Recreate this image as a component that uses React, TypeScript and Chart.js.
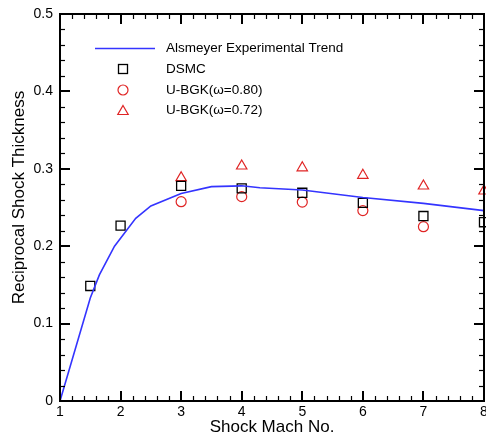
import React, { useEffect, useRef } from 'react';
import { Chart, registerables } from 'chart.js';
Chart.register(...registerables);

const machTrend = [1, 1.5, 1.65, 1.9, 2.25, 2.5, 3, 3.5, 4, 4.3, 5, 6, 7, 8];
const alsmeyerTrend = [0, 0.133, 0.163, 0.2, 0.236, 0.252, 0.268, 0.277, 0.278, 0.2756, 0.2726, 0.263, 0.2553, 0.246];

const machDsmc = [1.5, 2, 3, 4, 5, 6, 7, 8];
const dsmc = [0.1486, 0.2265, 0.278, 0.2748, 0.269, 0.256, 0.239, 0.231];

const machBgk80 = [3, 4, 5, 6, 7];
const bgk80 = [0.2575, 0.264, 0.257, 0.246, 0.2252];

const machBgk72 = [3, 4, 5, 6, 7, 8];
const bgk72 = [0.2885, 0.3036, 0.3013, 0.2916, 0.2778, 0.2713];

const xTicks = [1, 2, 3, 4, 5, 6, 7, 8];
const yTickLabels = ['0', '0.1', '0.2', '0.3', '0.4', '0.5'];

const seriesNames = ['Alsmeyer Experimental Trend', 'DSMC', 'U-BGK(\u03c9=0.80)', 'U-BGK(\u03c9=0.72)'];
const xTitle = 'Shock Mach No.';
const yTitle = 'Reciprocal Shock Thickness';

const FONT = '"Liberation Sans", Arial, Helvetica, sans-serif';
const BLUE = '#3434ff';
const RED = '#e02424';

const zip = (xs: number[], ys: number[]) => xs.map((x, i) => ({ x, y: ys[i] }));

const framePlugin = {
  id: 'frame',
  afterDraw(chart: any) {
    const { ctx, chartArea } = chart;
    const { left, right, top, bottom } = chartArea;
    const xs = chart.scales.x;
    const ys = chart.scales.y;
    ctx.save();
    ctx.strokeStyle = '#000';
    const line = (x1: number, y1: number, x2: number, y2: number, w: number) => {
      ctx.lineWidth = w;
      ctx.beginPath();
      ctx.moveTo(x1, y1);
      ctx.lineTo(x2, y2);
      ctx.stroke();
    };
    for (let i = 0; i <= 35; i++) {
      const v = 1 + i * 0.2;
      const major = i % 5 === 0;
      const px = Math.round(xs.getPixelForValue(v)) + (major ? 0 : 0.5);
      const len = major ? 10 : 5;
      const w = major ? 2 : 1.2;
      line(px, bottom, px, bottom - len, w);
      line(px, top, px, top + len, w);
    }
    for (let i = 0; i <= 25; i++) {
      const v = i * 0.02;
      const major = i % 5 === 0;
      const py = Math.round(ys.getPixelForValue(v)) + (major ? 0 : 0.5);
      const len = major ? 10 : 5;
      const w = major ? 2 : 1.2;
      line(left, py, left + len, py, w);
      line(right, py, right - len, py, w);
    }
    ctx.lineWidth = 2;
    ctx.strokeRect(left, top, right - left, bottom - top);

    // axis titles
    ctx.fillStyle = '#000';
    ctx.font = `17px ${FONT}`;
    ctx.textAlign = 'center';
    ctx.textBaseline = 'middle';
    ctx.fillText(xTitle, (left + right) / 2, 427);
    ctx.save();
    ctx.translate(19, 197.5);
    ctx.rotate(-Math.PI / 2);
    ctx.fillText(yTitle, 0, 0);
    ctx.restore();

    // legend
    const lx = 123;
    const rows = [48.5, 69, 90, 110.5];
    ctx.strokeStyle = BLUE;
    ctx.lineWidth = 1.6;
    ctx.beginPath();
    ctx.moveTo(95, rows[0]);
    ctx.lineTo(155, rows[0]);
    ctx.stroke();
    ctx.strokeStyle = '#000';
    ctx.lineWidth = 1.3;
    ctx.strokeRect(lx - 4.5, rows[1] - 4.5, 9, 9);
    ctx.strokeStyle = RED;
    ctx.lineWidth = 1.2;
    ctx.beginPath();
    ctx.arc(lx, rows[2], 5, 0, Math.PI * 2);
    ctx.stroke();
    const r = 6;
    const cy = rows[3] + 1;
    ctx.beginPath();
    ctx.moveTo(lx, cy - r);
    ctx.lineTo(lx + r * Math.sin((2 * Math.PI) / 3), cy - r * Math.cos((2 * Math.PI) / 3));
    ctx.lineTo(lx + r * Math.sin((4 * Math.PI) / 3), cy - r * Math.cos((4 * Math.PI) / 3));
    ctx.closePath();
    ctx.stroke();
    ctx.fillStyle = '#000';
    ctx.font = `13.5px ${FONT}`;
    ctx.textAlign = 'left';
    ctx.textBaseline = 'middle';
    seriesNames.forEach((n, i) => ctx.fillText(n, 166, rows[i]));
    ctx.restore();
  },
};

export default function App() {
  const ref = useRef<HTMLCanvasElement | null>(null);
  useEffect(() => {
    if (!ref.current) return;
    const chart = new Chart(ref.current, {
      type: 'scatter',
      data: {
        datasets: [
          {
            label: seriesNames[0],
            data: zip(machTrend, alsmeyerTrend),
            showLine: true,
            borderColor: BLUE,
            borderWidth: 1.6,
            pointRadius: 0,
            tension: 0,
            clip: false as any,
          },
          {
            label: seriesNames[1],
            data: zip(machDsmc, dsmc),
            pointStyle: 'rect',
            pointRadius: 6.4,
            borderColor: '#000',
            borderWidth: 1.3,
            backgroundColor: 'rgba(0,0,0,0)',
            clip: false as any,
          },
          {
            label: seriesNames[2],
            data: zip(machBgk80, bgk80),
            pointStyle: 'circle',
            pointRadius: 5,
            borderColor: RED,
            borderWidth: 1.2,
            backgroundColor: 'rgba(0,0,0,0)',
            clip: false as any,
          },
          {
            label: seriesNames[3],
            data: zip(machBgk72, bgk72),
            pointStyle: 'triangle',
            pointRadius: 6,
            borderColor: RED,
            borderWidth: 1.2,
            backgroundColor: 'rgba(0,0,0,0)',
            clip: false as any,
          },
        ],
      },
      options: {
        animation: false,
        responsive: true,
        maintainAspectRatio: false,
        layout: { autoPadding: false, padding: { left: 0, right: 2, top: 14, bottom: 0 } },
        plugins: { legend: { display: false }, tooltip: { enabled: false } },
        scales: {
          x: {
            type: 'linear',
            min: 1,
            max: 8,
            grid: { display: false, drawTicks: false },
            border: { display: false },
            afterBuildTicks: (s: any) => {
              s.ticks = xTicks.map((v) => ({ value: v }));
            },
            ticks: {
              padding: 3,
              color: '#000',
              maxRotation: 0,
              autoSkip: false,
              font: { family: FONT, size: 14 },
              callback: (v: any) => String(v),
            },
            afterFit: (s: any) => {
              s.height = 39;
              s.paddingLeft = 0;
              s.paddingRight = 0;
            },
          },
          y: {
            type: 'linear',
            min: 0,
            max: 0.5,
            grid: { display: false, drawTicks: false },
            border: { display: false },
            afterBuildTicks: (s: any) => {
              s.ticks = yTickLabels.map((_, i) => ({ value: i * 0.1 }));
            },
            ticks: {
              padding: 7,
              color: '#000',
              autoSkip: false,
              font: { family: FONT, size: 14 },
              callback: (_v: any, i: number) => yTickLabels[i],
            },
            afterFit: (s: any) => {
              s.width = 60;
              s.paddingTop = 0;
              s.paddingBottom = 0;
            },
          },
        },
      },
      plugins: [framePlugin],
    } as any);
    return () => chart.destroy();
  }, []);
  return (
    <div style={{ position: 'absolute', left: 0, top: 0, width: 486, height: 440, background: '#fff' }}>
      <canvas ref={ref} />
    </div>
  );
}
